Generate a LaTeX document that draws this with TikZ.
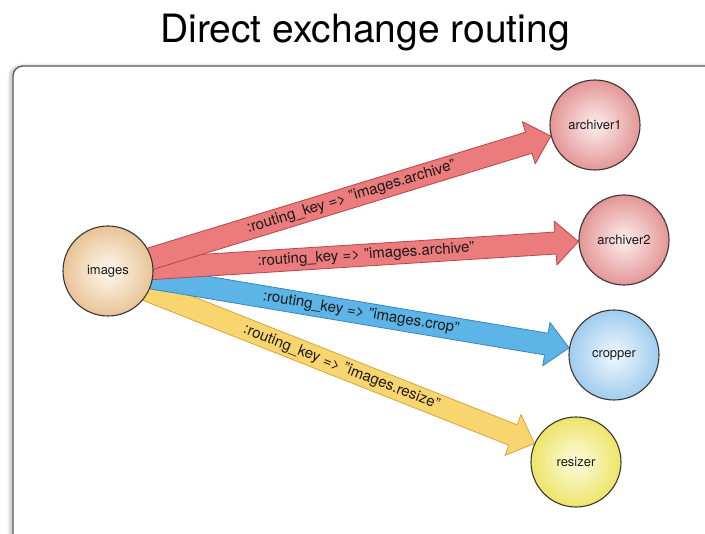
\documentclass[tikz,border=0pt]{standalone}
\usepackage{fontspec}
\setmainfont{TeX Gyre Heros}
\usetikzlibrary{calc}

\definecolor{ink}{HTML}{1A1A1A}
\definecolor{ringcol}{HTML}{3A3633}
\definecolor{framecol}{HTML}{5A5A5A}
\definecolor{redfill}{HTML}{EB7B7C}
\definecolor{redline}{HTML}{B4474A}
\definecolor{bluefill}{HTML}{5DB4E7}
\definecolor{blueline}{HTML}{3A85BD}
\definecolor{yelfill}{HTML}{F9D570}
\definecolor{yelline}{HTML}{D7A43E}

\pgfdeclarelayer{under}
\pgfsetlayers{under,main}

\tikzset{
  queue/.style={circle, minimum size=90pt, inner sep=0pt, draw=ringcol,
    line width=1.1pt, shading=radial, text=ink,
    font=\fontsize{13}{15}\selectfont},
  exch/.style={queue, inner color=white!85!orange!40, outer color={rgb,255:red,232;green,196;blue,150}},
  arch/.style={queue, inner color={rgb,255:red,252;green,238;blue,238}, outer color={rgb,255:red,228;green,150;blue,150}},
  crop/.style={queue, inner color={rgb,255:red,240;green,248;blue,254}, outer color={rgb,255:red,160;green,204;blue,238}},
  resz/.style={queue, inner color={rgb,255:red,252;green,252;blue,224}, outer color={rgb,255:red,238;green,228;blue,104}},
  redarrow/.style={fill=redfill, draw=redline, line width=0.8pt, line join=round},
  bluearrow/.style={fill=bluefill, draw=blueline, line width=0.8pt, line join=round},
  yelarrow/.style={fill=yelfill, draw=yelline, line width=0.8pt, line join=round},
  keylabel/.style={sloped, midway, text=ink, inner sep=0pt,
    font=\fontsize{15}{17}\selectfont},
}

% block arrow: #1 style, #2 tail point, #3 tip point
\newcommand\blockarrow[3]{%
  \coordinate (ba-neck) at ($(#3)!23pt!(#2)$);
  \draw[#1] ($(#2)!11pt!90:(#3)$)
    -- ($(ba-neck)!11pt!-90:(#2)$)
    -- ($(ba-neck)!22pt!-90:(#2)$)
    -- (#3)
    -- ($(ba-neck)!22pt!90:(#2)$)
    -- ($(ba-neck)!11pt!90:(#2)$)
    -- ($(#2)!11pt!-90:(#3)$) -- cycle;}

\begin{document}
\begin{tikzpicture}[x=1pt, y=-1pt]
  \useasboundingbox (0,0) rectangle (705,534);

  % title
  \node[text=black, font=\fontsize{39}{43}\selectfont] (title) at (365,33) {Direct exchange routing};

  % exchange and queues
  \node[exch] (images) at (108,271) {images};
  \node[arch] (archiver1) at (595,125) {archiver1};
  \node[arch] (archiver2) at (624,240) {archiver2};
  \node[crop] (cropper) at (614,355) {cropper};
  \node[resz] (resizer) at (576,462) {resizer};

  % arrow tails start a little inside the exchange circle
  \coordinate (s1) at ($(images.center)!0.8!(images.16)$);
  \coordinate (s2) at ($(images.center)!0.8!(images.3)$);
  \coordinate (s3) at ($(images.center)!0.8!(images.-9)$);
  \coordinate (s4) at ($(images.center)!0.8!(images.-27)$);

  \begin{pgfonlayer}{under}
    % frame with a soft shadow
    \foreach \w/\o in {7/0.04,5/0.06,3/0.08}
      \draw[black, opacity=\o, line width=\w pt, rounded corners=10pt]
        (11,67) rectangle (730,552);
    \draw[framecol, line width=1.3pt, rounded corners=10pt, fill=white]
      (13,66) rectangle (730,552);

    \blockarrow{yelarrow}{s4}{resizer.156}
    \blockarrow{bluearrow}{s3}{cropper.171}
    \blockarrow{redarrow}{s2}{archiver2.182}
    \blockarrow{redarrow}{s1}{archiver1.194}
  \end{pgfonlayer}

  % routing key labels
  \path (images.16) -- (archiver1.194) node[keylabel] (k1) {:routing\_key => "images.archive"};
  \path (images.3) -- (archiver2.182) node[keylabel] (k2) {:routing\_key => "images.archive"};
  \path (images.-9) -- (cropper.171) node[keylabel] (k3) {:routing\_key => "images.crop"};
  \path (images.-27) -- (resizer.156) node[keylabel] (k4) {:routing\_key => "images.resize"};
\end{tikzpicture}
\end{document}
